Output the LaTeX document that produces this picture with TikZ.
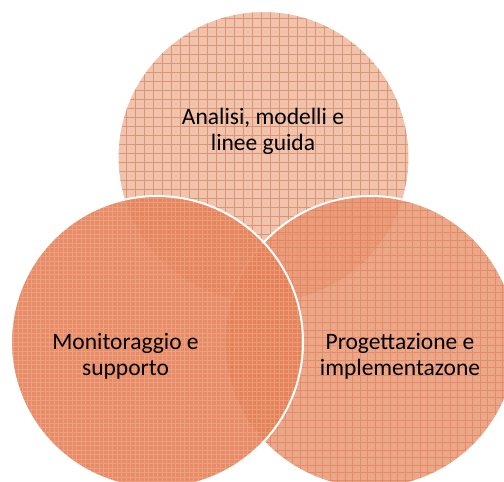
\documentclass[tikz,border=0pt]{standalone}
\usepackage{fontspec}
\setmainfont{Carlito}
\definecolor{analisifill}{RGB}{236,180,152}
\definecolor{analisiline}{RGB}{218,136,102}
\definecolor{progfill}{RGB}{233,150,115}
\definecolor{progline}{RGB}{222,124,86}
\definecolor{monfill}{RGB}{229,128,86}
\definecolor{monline}{RGB}{250,200,172}
\tikzset{
  vtext/.style={align=center, text=black, font=\fontsize{23.5}{26}\selectfont},
  rim/.style={white, line width=2pt}
}

\begin{document}
\begin{tikzpicture}[x=1pt, y=-1pt]
    \useasboundingbox (0,0) rectangle (504,482);
    \clip (0,0) rectangle (504,482);
    \def\r{146};
    % Analisi (top)
    \begin{scope}
      \clip (263.5,157) circle (\r);
      \fill [analisifill, fill opacity=0.8] (263.5,157) circle (\r);
      \draw [analisiline, opacity=0.8, step=9pt] (110,0) grid (420,310);
    \end{scope}
    \draw [rim] (263.5,157) circle (\r);
    % Progettazione (right)
    \begin{scope}
      \clip (370.5,342) circle (\r);
      \fill [progfill, fill opacity=0.85] (370.5,342) circle (\r);
      \draw [progline, opacity=0.6, step=7.5pt] (220,190) grid (520,490);
    \end{scope}
    \draw [rim] (370.5,342) circle (\r);
    % Monitoraggio (left)
    \begin{scope}
      \clip (157,342) circle (\r);
      \fill [monfill, fill opacity=0.9] (157,342) circle (\r);
      \draw [monline, opacity=0.35, step=4.5pt] (5,190) grid (310,490);
    \end{scope}
    \draw [rim] (157,342) circle (\r);
    % texts
    \node [vtext] (analisi) at (263,131) {Analisi, modelli e\\linee guida};
    \node [vtext] (monitor) at (125.5,356) {Monitoraggio e\\supporto};
    \node [vtext] (progetto) at (400,356) {Progettazione e\\implementazone};
\end{tikzpicture}
\end{document}
